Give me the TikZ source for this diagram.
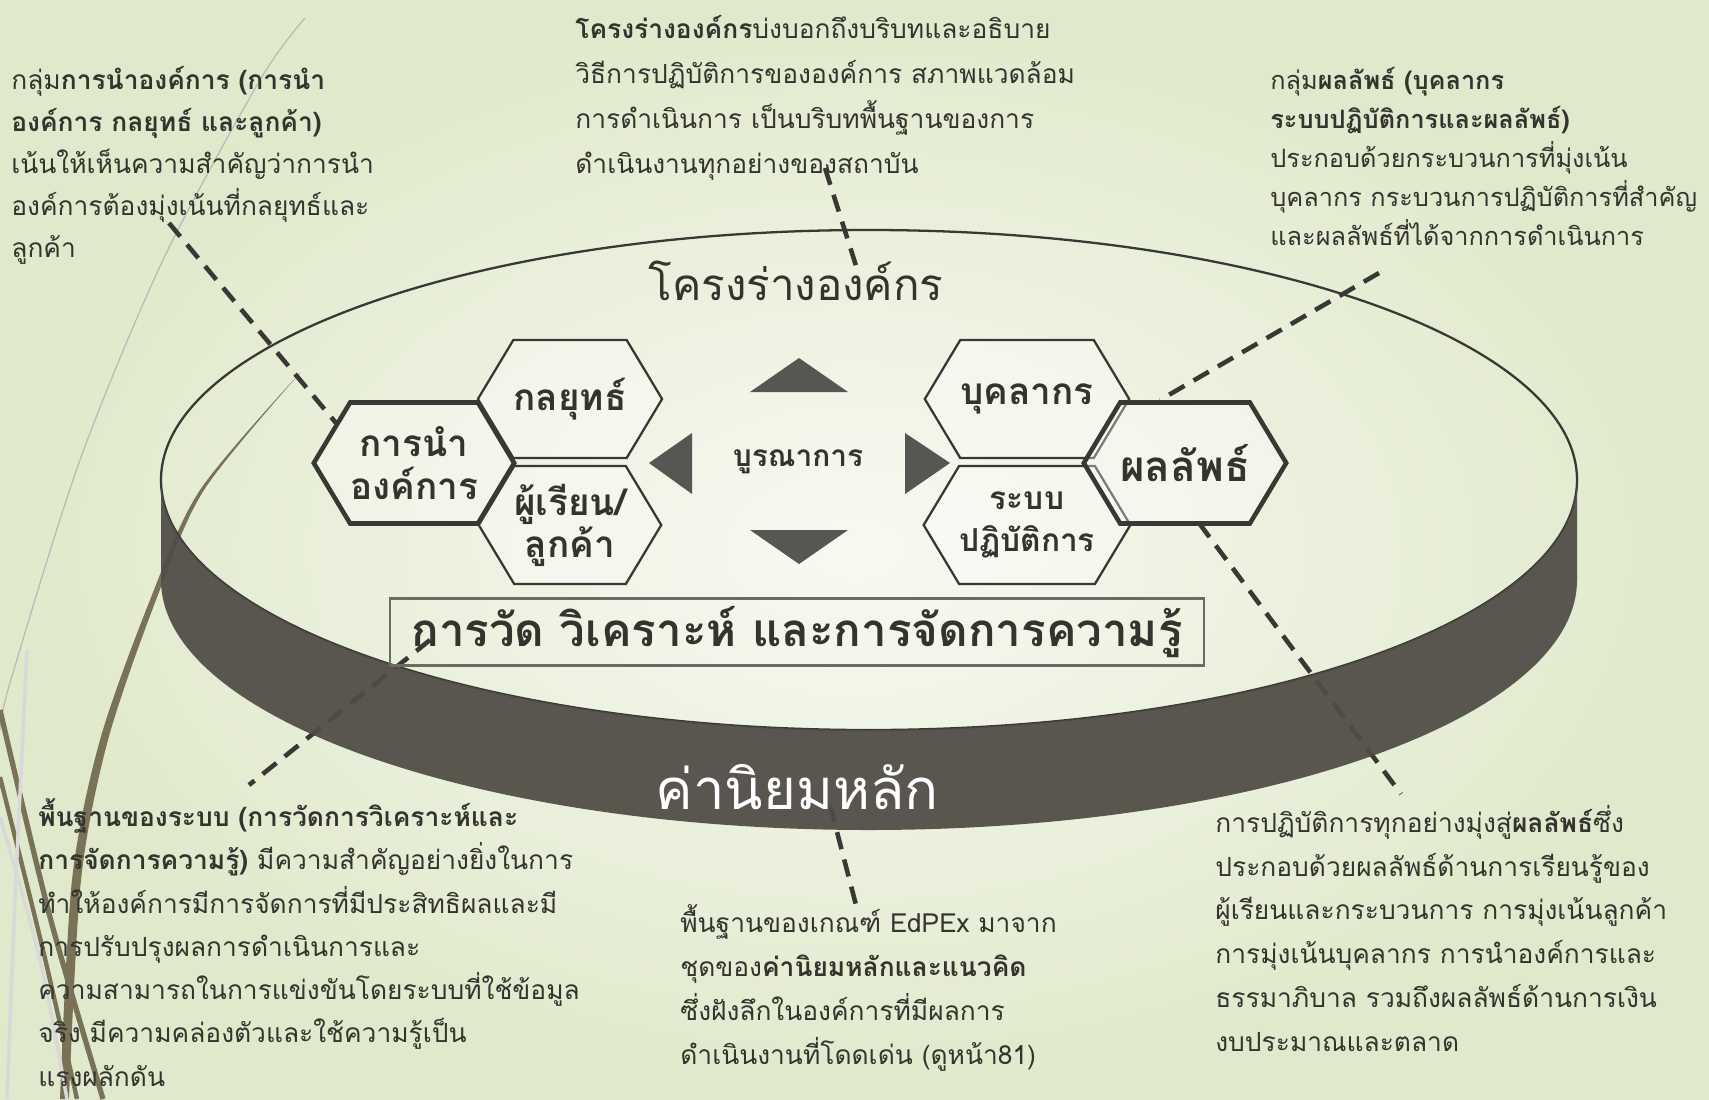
\documentclass[tikz,border=0pt]{standalone}
\usepackage{fontspec}
\newfontfamily\thai[Script=Thai]{Loma}
\usetikzlibrary{shapes.symbols}
\definecolor{band}{HTML}{504D46}
\definecolor{ink}{HTML}{383834}
\definecolor{txt}{HTML}{34342F}
\definecolor{olive}{HTML}{7A7257}
\definecolor{bgin}{HTML}{F8F9F2}
\definecolor{bgout}{HTML}{E0E9CB}

\begin{document}
\begin{tikzpicture}[x=0.02cm, y=-0.02cm,
    hexa/.style={signal, signal to=east and west, signal pointer angle=118, draw=ink, line width=1.3pt, fill=white, fill opacity=0.35, text opacity=1, inner sep=0pt, minimum width=3.6cm, minimum height=2.36cm, align=center, text=txt, font=\thai\bfseries\fontsize{21}{24}\selectfont},
    core/.style={line width=2.6pt, minimum width=3.78cm, minimum height=2.42cm},
    para/.style={anchor=base west, inner sep=0pt, align=left, text=txt, font=\thai\fontsize{15}{#1}\selectfont},
    link/.style={draw=ink, line width=2.6pt, dash pattern=on 10pt off 6pt},
    marker/.style={fill=ink!85}]
    \useasboundingbox (0, 0) rectangle (1709, 1099);
    %Background
    \shade[inner color=bgin, outer color=bgout] (0, 0) rectangle (1709, 1099);
    \draw[gray!55, line width=0.7pt] plot[smooth] coordinates {(305, 18) (260, 80) (163, 260) (80, 460) (10, 683) (0, 730)};
    \fill[olive] plot[smooth] coordinates {(300, 373) (200, 490) (150, 600) (100, 740) (72, 880) (60, 1099)}
        -- plot[smooth] coordinates {(69, 1099) (81, 880) (108, 740) (156, 600) (204, 490) (301, 372)} -- cycle;
    \draw[olive, line width=3pt] plot[smooth] coordinates {(0, 710) (50, 917) (103, 1099)};
    \draw[olive, line width=2.5pt] plot[smooth] coordinates {(0, 777) (43, 950) (77, 1099)};
    \draw[gray!30, line width=2pt] plot[smooth] coordinates {(27, 650) (15, 900) (7, 1099)};
    \draw[gray!30, line width=2pt] plot[smooth] coordinates {(0, 817) (40, 960) (67, 1099)};

    %Texts (placed by the baseline of their last line)
    \node[para=23.8] at (11, 257) (tLead) {กลุ่ม\textbf{การนำองค์การ (การนำ}\\
        \textbf{องค์การ กลยุทธ์ และลูกค้า)}\\
        เน้นให้เห็นความสำคัญว่าการนำ\\
        องค์การต้องมุ่งเน้นที่กลยุทธ์และ\\
        ลูกค้า};
    \node[para=25.5] at (575, 173) (tFrame) {\textbf{โครงร่างองค์กร}บ่งบอกถึงบริบทและอธิบาย\\
        วิธีการปฏิบัติการขององค์การ สภาพแวดล้อม\\
        การดำเนินการ เป็นบริบทพื้นฐานของการ\\
        ดำเนินงานทุกอย่างของสถาบัน};
    \node[para=22.1, font=\thai\fontsize{14.4}{22.1}\selectfont] at (1270, 245) (tOut) {กลุ่ม\textbf{ผลลัพธ์ (บุคลากร}\\
        \textbf{ระบบปฏิบัติการและผลลัพธ์)}\\
        ประกอบด้วยกระบวนการที่มุ่งเน้น\\
        บุคลากร กระบวนการปฏิบัติการที่สำคัญ\\
        และผลลัพธ์ที่ได้จากการดำเนินการ};
    \node[para=24.6] at (38, 1086) (tBase) {\textbf{พื้นฐานของระบบ (การวัดการวิเคราะห์และ}\\
        \textbf{การจัดการความรู้)} มีความสำคัญอย่างยิ่งในการ\\
        ทำให้องค์การมีการจัดการที่มีประสิทธิผลและมี\\
        การปรับปรุงผลการดำเนินการและ\\
        ความสามารถในการแข่งขันโดยระบบที่ใช้ข้อมูล\\
        จริง มีความคล่องตัวและใช้ความรู้เป็น\\
        แรงผลักดัน};
    \node[para=24.9] at (680, 1064) (tValue) {พื้นฐานของเกณฑ์ EdPEx มาจาก\\
        ชุดของ\textbf{ค่านิยมหลักและแนวคิด}\\
        ซึ่งฝังลึกในองค์การที่มีผลการ\\
        ดำเนินงานที่โดดเด่น (ดูหน้า81)};
    \node[para=24.9] at (1215, 1051) (tResult) {การปฏิบัติการทุกอย่างมุ่งสู่\textbf{ผลลัพธ์}ซึ่ง\\
        ประกอบด้วยผลลัพธ์ด้านการเรียนรู้ของ\\
        ผู้เรียนและกระบวนการ การมุ่งเน้นลูกค้า\\
        การมุ่งเน้นบุคลากร การนำองค์การและ\\
        ธรรมาภิบาล รวมถึงผลลัพธ์ด้านการเงิน\\
        งบประมาณและตลาด};

    %Ends of the dashed lines
    \coordinate (dFrameA) at (825, 168);
    \coordinate (dFrameB) at (858, 272);
    \coordinate (dLeadA) at (169, 223);
    \coordinate (dLeadB) at (336, 423);
    \coordinate (dOutA) at (1379, 273);
    \coordinate (dOutB) at (1160, 400);
    \coordinate (dResA) at (1199, 523);
    \coordinate (dResB) at (1401, 794);
    \coordinate (dBaseA) at (430, 640);
    \coordinate (dBaseB) at (249, 785);
    \coordinate (dValA) at (830, 805);
    \coordinate (dValB) at (856, 905);

    %Lines
    \draw[link] (dFrameA) -- (dFrameB);
    \draw[link] (dLeadA) -- (dLeadB);
    \draw[link] (dOutA) -- (dOutB);
    \draw[link] (dResA) -- (dResB);
    \draw[link] (dBaseA) -- (dBaseB);
    \draw[link] (dValA) -- (dValB);

    %Disc
    \coordinate (disc) at (869, 480);
    \draw[ink, line width=1.3pt] (disc) ellipse [x radius=708, y radius=250];
    \fill[band, opacity=0.94] (161, 480) arc [start angle=180, end angle=0, x radius=708, y radius=250]
        -- (1577, 580) arc [start angle=0, end angle=180, x radius=708, y radius=250] -- cycle;
    \node[text=white, font=\thai\fontsize{32}{36}\selectfont] at (797, 787) (values) {ค่านิยมหลัก};

    %Nodes
    \node[font=\thai\fontsize{25}{28}\selectfont, text=txt] at (796, 281) (frame) {โครงร่างองค์กร};
    \node[hexa, core] at (414, 463) (hLead) {การนำ\\องค์การ};
    \node[hexa] at (570, 399) (hStrat) {กลยุทธ์};
    \node[hexa] at (570, 525) (hLearn) {ผู้เรียน/\\ลูกค้า};
    \node[hexa] at (1027, 399) (hStaff) {บุคลากร};
    \node[hexa, font=\thai\bfseries\fontsize{18}{24}\selectfont] at (1027, 525) (hOps) {ระบบ\\ปฏิบัติการ};
    \node[hexa, core, font=\thai\bfseries\fontsize{24}{28}\selectfont] at (1185, 463) (hOut) {ผลลัพธ์};
    \node[text=txt, font=\thai\bfseries\fontsize{17}{20}\selectfont] at (798, 462) (integ) {บูรณาการ};
    \node[draw=ink!75, line width=1.2pt, inner sep=0pt, minimum width=16.3cm, minimum height=1.34cm,
        text=txt, font=\thai\bfseries\fontsize{26}{28}\selectfont] at (797, 632) (measure) {การวัด วิเคราะห์ และการจัดการความรู้};

    %Arrow heads round the centre
    \fill[marker] (750, 392) -- (799, 358) -- (848, 392) -- cycle;
    \fill[marker] (750, 530) -- (799, 564) -- (848, 530) -- cycle;
    \fill[marker] (692, 433) -- (649, 463) -- (692, 494) -- cycle;
    \fill[marker] (905, 433) -- (950, 463) -- (905, 494) -- cycle;
\end{tikzpicture}
\end{document}
